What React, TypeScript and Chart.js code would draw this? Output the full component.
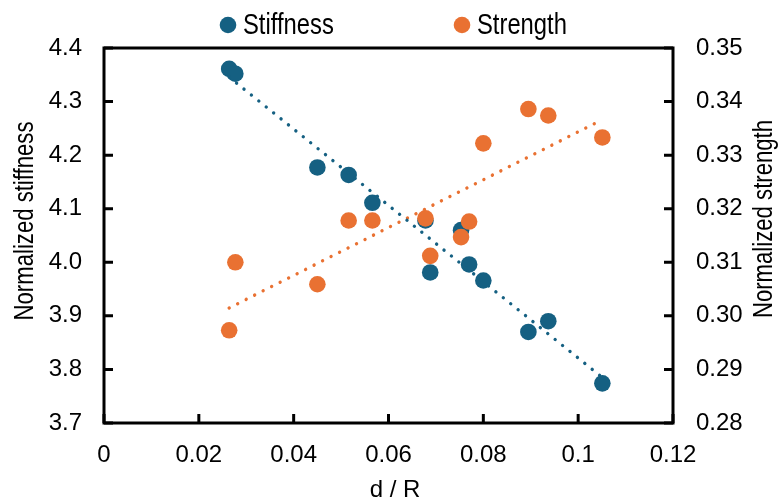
import React, { useEffect, useRef } from 'react';
import { Chart, registerables } from 'chart.js';

Chart.register(...registerables);

// ---- data ----
const dOverR = [0.0264, 0.0277, 0.045, 0.0516, 0.0566, 0.0678, 0.0688, 0.0753, 0.077, 0.08, 0.0895, 0.0937, 0.1051];
const stiffness = [4.361, 4.352, 4.177, 4.163, 4.111, 4.078, 3.981, 4.06, 3.996, 3.966, 3.87, 3.89, 3.774];
const strength = [0.2973, 0.31, 0.3059, 0.3178, 0.3178, 0.3182, 0.3112, 0.3147, 0.3176, 0.3322, 0.3386, 0.3374, 0.3333];

const xTickValues = [0, 0.02, 0.04, 0.06, 0.08, 0.1, 0.12];
const stiffTickValues = [3.7, 3.8, 3.9, 4.0, 4.1, 4.2, 4.3, 4.4];
const strengthTickValues = [0.28, 0.29, 0.3, 0.31, 0.32, 0.33, 0.34, 0.35];

const seriesNames = ['Stiffness', 'Strength'];
const xTitle = 'd / R';
const yTitle = 'Normalized stiffness';
const y1Title = 'Normalized strength';

const BLUE = '#156082';
const ORANGE = '#E97132';

function linearTrend(xs: number[], ys: number[]) {
  const n = xs.length;
  const mx = xs.reduce((a, b) => a + b, 0) / n;
  const my = ys.reduce((a, b) => a + b, 0) / n;
  let sxy = 0, sxx = 0;
  for (let i = 0; i < n; i++) {
    sxy += (xs[i] - mx) * (ys[i] - my);
    sxx += (xs[i] - mx) * (xs[i] - mx);
  }
  const b = sxy / sxx;
  const a = my - b * mx;
  const x0 = Math.min(...xs);
  const x1 = Math.max(...xs);
  return [{ x: x0, y: a + b * x0 }, { x: x1, y: a + b * x1 }];
}

export default function App() {
  const ref = useRef<HTMLCanvasElement | null>(null);

  useEffect(() => {
    if (!ref.current) return;
    const base = '"Liberation Sans", Arial, sans-serif';
    const titleFont = `27px ${base}`;
    const legendFont = `29px ${base}`;
    const squeeze = 0.82; // condensed look of the reference's title/legend face
    const tickFont = { family: base, size: 24 };

    const pts = (ys: number[]) => dOverR.map((x, i) => ({ x, y: ys[i] }));

    const decor = {
      id: 'decor',
      afterDraw(chart: any) {
        const { ctx, chartArea, scales } = chart;
        const { left, right, top, bottom } = chartArea;
        ctx.save();
        ctx.strokeStyle = '#000';
        ctx.lineWidth = 3;
        ctx.strokeRect(left, top, right - left, bottom - top);
        const tl = 9;
        ctx.beginPath();
        scales.x.ticks.forEach((t: any) => {
          const p = scales.x.getPixelForValue(t.value);
          ctx.moveTo(p, bottom);
          ctx.lineTo(p, bottom - tl);
        });
        scales.y.ticks.forEach((t: any) => {
          const p = scales.y.getPixelForValue(t.value);
          ctx.moveTo(left, p);
          ctx.lineTo(left + tl, p);
        });
        scales.y1.ticks.forEach((t: any) => {
          const p = scales.y1.getPixelForValue(t.value);
          ctx.moveTo(right, p);
          ctx.lineTo(right - tl, p);
        });
        ctx.stroke();

        // axis titles
        ctx.fillStyle = '#000';
        ctx.textAlign = 'center';
        ctx.textBaseline = 'alphabetic';
        ctx.font = titleFont;
        ctx.save();
        ctx.translate(33, 221);
        ctx.rotate(-Math.PI / 2);
        ctx.scale(squeeze, 1);
        ctx.fillText(yTitle, 0, 0);
        ctx.restore();
        ctx.save();
        ctx.translate(772, 219);
        ctx.rotate(-Math.PI / 2);
        ctx.scale(squeeze, 1);
        ctx.fillText(y1Title, 0, 0);
        ctx.restore();
        ctx.font = `24px ${base}`;
        ctx.fillText(xTitle, 395, 497);

        // legend
        const items = [
          { text: seriesNames[0], color: BLUE, cx: 228, tx: 243 },
          { text: seriesNames[1], color: ORANGE, cx: 462, tx: 477 },
        ];
        ctx.font = legendFont;
        ctx.textAlign = 'left';
        items.forEach((it) => {
          ctx.beginPath();
          ctx.fillStyle = it.color;
          ctx.arc(it.cx, 25, 8.3, 0, Math.PI * 2);
          ctx.fill();
          ctx.fillStyle = '#000';
          ctx.save();
          ctx.translate(it.tx, 34);
          ctx.scale(squeeze, 1);
          ctx.fillText(it.text, 0, 0);
          ctx.restore();
        });
        ctx.restore();
      },
    };

    const tickSetter = (vals: number[]) => (scale: any) => {
      scale.ticks = vals.map((v) => ({ value: v }));
    };

    const chart = new Chart(ref.current, {
      type: 'scatter',
      data: {
        datasets: [
          {
            label: 'Stiffness trend',
            data: linearTrend(dOverR, stiffness),
            showLine: true,
            borderColor: BLUE,
            borderWidth: 3.4,
            borderDash: [0.01, 9.5],
            borderCapStyle: 'round',
            pointRadius: 0,
            yAxisID: 'y',
            order: 0,
          } as any,
          {
            label: 'Strength trend',
            data: linearTrend(dOverR, strength),
            showLine: true,
            borderColor: ORANGE,
            borderWidth: 3.4,
            borderDash: [0.01, 9.5],
            borderCapStyle: 'round',
            pointRadius: 0,
            yAxisID: 'y1',
            order: 0,
          } as any,
          {
            label: seriesNames[0],
            data: pts(stiffness),
            backgroundColor: BLUE,
            borderColor: BLUE,
            pointRadius: 8.3,
            pointHoverRadius: 8.3,
            pointBorderWidth: 0,
            yAxisID: 'y',
            order: 2,
          },
          {
            label: seriesNames[1],
            data: pts(strength),
            backgroundColor: ORANGE,
            borderColor: ORANGE,
            pointRadius: 8.3,
            pointHoverRadius: 8.3,
            pointBorderWidth: 0,
            yAxisID: 'y1',
            order: 1,
          },
        ],
      },
      options: {
        responsive: false,
        animation: false,
        devicePixelRatio: 1,
        events: [],
        layout: { padding: { top: 48, left: 0, right: 0, bottom: 0 } },
        plugins: {
          legend: { display: false },
          tooltip: { enabled: false },
          title: { display: false },
        },
        scales: {
          x: {
            type: 'linear',
            min: 0,
            max: 0.12,
            afterBuildTicks: tickSetter(xTickValues),
            afterFit: (s: any) => { s.height = 75; },
            grid: { display: false, drawTicks: false },
            border: { display: false },
            ticks: {
              padding: 18,
              color: '#000',
              font: tickFont,
              autoSkip: false,
              maxRotation: 0,
              callback: (v: any) => String(Number(Number(v).toFixed(2))),
            },
          },
          y: {
            type: 'linear',
            position: 'left',
            min: 3.7,
            max: 4.4,
            afterBuildTicks: tickSetter(stiffTickValues),
            afterFit: (s: any) => { s.width = 104; },
            grid: { display: false, drawTicks: false },
            border: { display: false },
            ticks: {
              padding: 22,
              color: '#000',
              font: tickFont,
              autoSkip: false,
              callback: (v: any) => Number(v).toFixed(1),
            },
          },
          y1: {
            type: 'linear',
            position: 'right',
            min: 0.28,
            max: 0.35,
            afterBuildTicks: tickSetter(strengthTickValues),
            afterFit: (s: any) => { s.width = 109; },
            grid: { display: false, drawTicks: false },
            border: { display: false },
            ticks: {
              padding: 23,
              color: '#000',
              font: tickFont,
              autoSkip: false,
              callback: (v: any) => Number(v).toFixed(2),
            },
          },
        },
      } as any,
      plugins: [decor],
    });
    return () => chart.destroy();
  }, []);

  return (
    <div style={{ position: 'absolute', left: 0, top: 0, width: 782, height: 498, background: '#fff' }}>
      <canvas ref={ref} width={782} height={498} style={{ display: 'block' }} />
    </div>
  );
}
